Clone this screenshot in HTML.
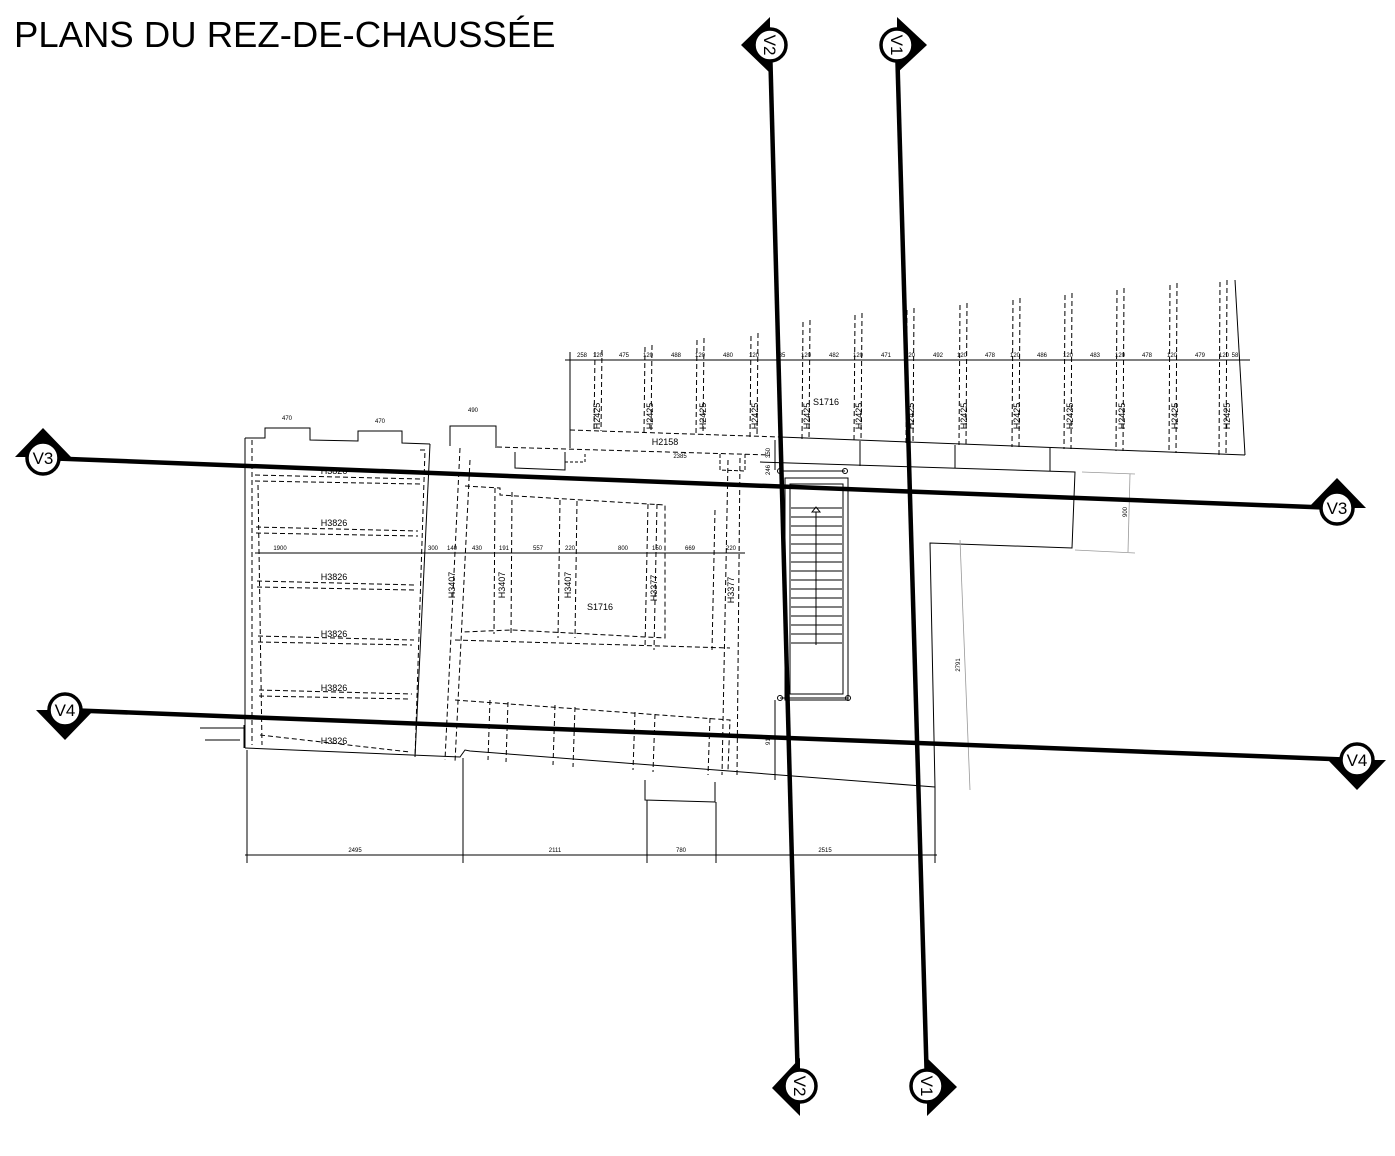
<!DOCTYPE html>
<html><head><meta charset="utf-8"><style>
html,body{margin:0;padding:0;background:#fff;width:1395px;height:1156px;overflow:hidden}
svg{display:block}
text{font-family:"Liberation Sans",sans-serif;fill:#000}
.d{font-size:6px}
.l{font-size:9px}
</style></head><body>
<svg width="1395" height="1156" viewBox="0 0 1395 1156" xmlns="http://www.w3.org/2000/svg">
<text x="14" y="47" style="font-size:36.5px">PLANS DU REZ-DE-CHAUSSÉE</text>

<g stroke="#000" fill="none" stroke-width="1">
<polyline points="570,352 570,432"/>
<line x1="565" y1="360" x2="1250" y2="360"/>
<line x1="1235" y1="280" x2="1245" y2="455"/>
<polyline points="570,430 780,437" stroke-dasharray="5,3"/>
<polyline points="780,437 1245,455"/>
<line x1="570" y1="432" x2="570" y2="448"/>
<polyline points="760,462 1075,472 1072,548 930,543 935,787"/>
<polyline points="860,441 860,466"/><polyline points="955,445 955,468"/><polyline points="1050,448 1050,471"/>
<polyline points="497,447 770,455" stroke-dasharray="5,3"/>
<polyline points="515,452 515,468 565,470 565,452"/>
<polyline points="720,454 720,470 745,471 745,454" stroke-dasharray="4,2"/>
<polyline points="565,452 565,462 585,462 585,452" stroke-dasharray="3,2"/>

<g stroke-dasharray="5,3">
<line x1="595" y1="352" x2="594" y2="431"/><line x1="602" y1="350" x2="601" y2="431"/>
<line x1="645" y1="347" x2="644" y2="433"/><line x1="652" y1="345" x2="651" y2="433"/>
<line x1="697" y1="340" x2="696" y2="435"/><line x1="704" y1="338" x2="703" y2="435"/>
<line x1="751" y1="336" x2="750" y2="437"/><line x1="758" y1="333" x2="757" y2="437"/>
<line x1="803" y1="322" x2="802" y2="439"/><line x1="810" y1="320" x2="809" y2="439"/>
<line x1="855" y1="315" x2="854" y2="441"/><line x1="862" y1="313" x2="861" y2="441"/>
<line x1="907" y1="310" x2="906" y2="443"/><line x1="914" y1="308" x2="913" y2="443"/>
<line x1="960" y1="305" x2="959" y2="445"/><line x1="967" y1="303" x2="966" y2="445"/>
<line x1="1013" y1="300" x2="1012" y2="447"/><line x1="1020" y1="298" x2="1019" y2="447"/>
<line x1="1065" y1="295" x2="1064" y2="449"/><line x1="1072" y1="293" x2="1071" y2="449"/>
<line x1="1117" y1="290" x2="1116" y2="451"/><line x1="1124" y1="288" x2="1123" y2="451"/>
<line x1="1170" y1="285" x2="1169" y2="453"/><line x1="1177" y1="283" x2="1176" y2="453"/>
<line x1="1220" y1="282" x2="1219" y2="455"/><line x1="1227" y1="280" x2="1226" y2="455"/>
</g>

<polyline points="245,438 265,438 265,428 310,428 310,440 358,441 358,431 402,431 402,443 430,444"/>
<polyline points="450,446 450,426 496,426 496,448"/>
<line x1="245" y1="438" x2="245" y2="748"/>
<line x1="252" y1="440" x2="252" y2="745" stroke-dasharray="5,3"/>
<polyline points="245,748 460,757 465,750 470,751 935,787"/>
<polyline points="645,780 645,800 715,802 715,782"/>
<line x1="430" y1="444" x2="415" y2="757"/>
<polyline points="420,450 425,450 415,757" stroke-dasharray="5,3"/>
<polyline points="460,448 445,760" stroke-dasharray="5,3"/>
<polyline points="470,460 455,762" stroke-dasharray="5,3"/>
<polyline points="740,458 737,775" stroke-dasharray="5,3"/>
<polyline points="728,460 722,775" stroke-dasharray="5,3"/>
<line x1="244" y1="725" x2="244" y2="748"/><line x1="200" y1="728" x2="244" y2="728"/><line x1="205" y1="740" x2="240" y2="740"/>

<g stroke-dasharray="5,3">
<line x1="255" y1="475" x2="420" y2="479"/><line x1="255" y1="481" x2="420" y2="484"/>
<line x1="256" y1="527" x2="418" y2="531"/><line x1="256" y1="533" x2="418" y2="536"/>
<line x1="257" y1="581" x2="416" y2="585"/><line x1="257" y1="587" x2="414" y2="590"/>
<line x1="258" y1="636" x2="414" y2="640"/><line x1="258" y1="642" x2="412" y2="645"/>
<line x1="259" y1="690" x2="412" y2="694"/><line x1="259" y1="696" x2="410" y2="699"/>
<line x1="260" y1="735" x2="410" y2="752"/>
<line x1="258" y1="485" x2="262" y2="745"/>
<polyline points="465,486 500,488 500,495 665,505 665,638 512,630 462,632"/>
<polyline points="455,700 660,715 730,720 728,770"/>
<line x1="455" y1="640" x2="730" y2="648"/>
<line x1="495" y1="488" x2="494" y2="634"/><line x1="512" y1="492" x2="511" y2="636"/>
<line x1="560" y1="500" x2="558" y2="638"/><line x1="577" y1="501" x2="575" y2="638"/>
<line x1="648" y1="504" x2="645" y2="648"/><line x1="657" y1="504" x2="654" y2="650"/>
<line x1="715" y1="510" x2="712" y2="650"/>
<line x1="490" y1="700" x2="488" y2="760"/><line x1="508" y1="702" x2="506" y2="762"/>
<line x1="555" y1="705" x2="553" y2="765"/><line x1="575" y1="707" x2="573" y2="767"/>
<line x1="635" y1="712" x2="633" y2="770"/><line x1="655" y1="714" x2="653" y2="772"/>
<line x1="710" y1="718" x2="708" y2="775"/>
</g>
<line x1="255" y1="553" x2="745" y2="553"/>

<rect x="785" y="478" width="63" height="222"/>
<rect x="790" y="484" width="53" height="210"/>
<line x1="780" y1="471" x2="845" y2="471"/><line x1="780" y1="698" x2="848" y2="698"/>
<circle cx="780" cy="471" r="2.5"/><circle cx="845" cy="471" r="2.5"/>
<circle cx="780" cy="698" r="2.5"/><circle cx="848" cy="698" r="2.5"/>
<g>
<line x1="791" y1="508" x2="842" y2="508"/><line x1="791" y1="517" x2="842" y2="517"/>
<line x1="791" y1="526" x2="842" y2="526"/><line x1="791" y1="535" x2="842" y2="535"/>
<line x1="791" y1="544" x2="842" y2="544"/><line x1="791" y1="553" x2="842" y2="553"/>
<line x1="791" y1="562" x2="842" y2="562"/><line x1="791" y1="571" x2="842" y2="571"/>
<line x1="791" y1="580" x2="842" y2="580"/><line x1="791" y1="589" x2="842" y2="589"/>
<line x1="791" y1="598" x2="842" y2="598"/><line x1="791" y1="607" x2="842" y2="607"/>
<line x1="791" y1="616" x2="842" y2="616"/><line x1="791" y1="625" x2="842" y2="625"/>
<line x1="791" y1="634" x2="842" y2="634"/><line x1="791" y1="643" x2="842" y2="643"/>
<line x1="816" y1="512" x2="816" y2="645"/>
<polygon points="812,512 816,507 820,512"/>
</g>
<line x1="775" y1="440" x2="775" y2="470"/><line x1="775" y1="700" x2="775" y2="780"/>

<g stroke="#999" stroke-width="0.8">
<line x1="1082" y1="472" x2="1135" y2="474"/><line x1="1075" y1="550" x2="1135" y2="553"/>
<line x1="1130" y1="474" x2="1128" y2="552"/>
<line x1="960" y1="540" x2="970" y2="790"/>
</g>

<line x1="247" y1="750" x2="247" y2="863"/><line x1="463" y1="758" x2="463" y2="863"/>
<line x1="647" y1="800" x2="647" y2="863"/><line x1="716" y1="802" x2="716" y2="863"/>
<line x1="935" y1="787" x2="935" y2="863"/>
<line x1="245" y1="855" x2="937" y2="855"/>
</g>

<g stroke="#000" stroke-width="4.5" fill="none">
<line x1="770" y1="45" x2="798" y2="1086"/>
<line x1="897" y1="45" x2="927" y2="1086"/>
<line x1="43" y1="458" x2="1337" y2="508"/>
<line x1="65" y1="710" x2="1357" y2="760"/>
</g>

<g fill="#000">
<polygon points="770,17 741,45 770,73"/>
<polygon points="897,17 927,45 897,73"/>
<polygon points="800,1058 772,1088 800,1116"/>
<polygon points="927,1058 957,1087 927,1116"/>
<polygon points="15,457 43,428 71,457"/>
<polygon points="1308,508 1337,478 1366,508"/>
<polygon points="36,710 65,740 94,710"/>
<polygon points="1328,760 1357,790 1386,760"/>
</g>
<g fill="#fff" stroke="#000" stroke-width="3.5">
<circle cx="770" cy="45" r="16"/><circle cx="897" cy="45" r="16"/>
<circle cx="800" cy="1086" r="16"/><circle cx="927" cy="1086" r="16"/>
<circle cx="43" cy="458" r="16"/><circle cx="1337" cy="508" r="16"/>
<circle cx="65" cy="710" r="16"/><circle cx="1357" cy="760" r="16"/>
</g>
<g style="font-size:17px" text-anchor="middle">
<text transform="translate(770,45) rotate(90)" y="6">V2</text>
<text transform="translate(897,45) rotate(90)" y="6">V1</text>
<text transform="translate(800,1086) rotate(90)" y="6">V2</text>
<text transform="translate(927,1086) rotate(90)" y="6">V1</text>
<text x="43" y="464">V3</text><text x="1337" y="514">V3</text>
<text x="65" y="716">V4</text><text x="1357" y="766">V4</text>
</g>

<g class="d" text-anchor="middle">
<text x="582" y="357">258</text><text x="598" y="357">120</text><text x="624" y="357">475</text>
<text x="648" y="357">120</text><text x="676" y="357">488</text><text x="700" y="357">120</text>
<text x="728" y="357">480</text><text x="754" y="357">120</text><text x="782" y="357">85</text>
<text x="806" y="357">120</text><text x="834" y="357">482</text><text x="858" y="357">120</text>
<text x="886" y="357">471</text><text x="910" y="357">120</text><text x="938" y="357">492</text>
<text x="962" y="357">120</text><text x="990" y="357">478</text><text x="1015" y="357">120</text>
<text x="1042" y="357">486</text><text x="1068" y="357">120</text><text x="1095" y="357">483</text>
<text x="1120" y="357">120</text><text x="1147" y="357">478</text><text x="1172" y="357">120</text>
<text x="1200" y="357">479</text><text x="1224" y="357">120</text><text x="1235" y="357">58</text>
<text x="287" y="420">470</text><text x="380" y="423">470</text><text x="473" y="412">490</text>
<text x="280" y="550">1900</text><text x="433" y="550">300</text><text x="452" y="550">140</text>
<text x="477" y="550">430</text><text x="504" y="550">191</text><text x="538" y="550">557</text>
<text x="570" y="550">220</text><text x="623" y="550">800</text><text x="657" y="550">150</text>
<text x="690" y="550">669</text><text x="731" y="550">220</text>
<text x="355" y="852">2495</text><text x="555" y="852">2111</text><text x="681" y="852">780</text><text x="825" y="852">2515</text>
<text x="680" y="458">2385</text>
<text transform="translate(1127,512) rotate(-90)">900</text>
<text transform="translate(960,665) rotate(-90)">2791</text>
<text transform="translate(770,453) rotate(-90)">350</text>
<text transform="translate(770,470) rotate(-90)">246</text>
<text transform="translate(770,740) rotate(-90)">910</text>
</g>
<g class="l" text-anchor="middle">
<text transform="translate(600,416) rotate(-90)">H2425</text>
<text transform="translate(653,416) rotate(-90)">H2425</text>
<text transform="translate(706,416) rotate(-90)">H2425</text>
<text transform="translate(758,416) rotate(-90)">H2425</text>
<text transform="translate(810,416) rotate(-90)">H2425</text>
<text transform="translate(862,416) rotate(-90)">H2425</text>
<text transform="translate(914,416) rotate(-90)">H2425</text>
<text transform="translate(967,416) rotate(-90)">H2425</text>
<text transform="translate(1020,416) rotate(-90)">H2425</text>
<text transform="translate(1073,416) rotate(-90)">H2425</text>
<text transform="translate(1125,416) rotate(-90)">H2425</text>
<text transform="translate(1178,416) rotate(-90)">H2425</text>
<text transform="translate(1230,416) rotate(-90)">H2425</text>
<text x="826" y="405">S1716</text>
<text x="665" y="445">H2158</text>
<text x="334" y="474">H3826</text><text x="334" y="526">H3826</text><text x="334" y="580">H3826</text>
<text x="334" y="637">H3826</text><text x="334" y="691">H3826</text><text x="334" y="744">H3826</text>
<text x="600" y="610">S1716</text>
<text transform="translate(455,585) rotate(-90)">H3407</text>
<text transform="translate(505,585) rotate(-90)">H3407</text>
<text transform="translate(571,585) rotate(-90)">H3407</text>
<text transform="translate(657,588) rotate(-90)">H3377</text>
<text transform="translate(734,590) rotate(-90)">H3377</text>
</g>
</svg>
</body></html>
